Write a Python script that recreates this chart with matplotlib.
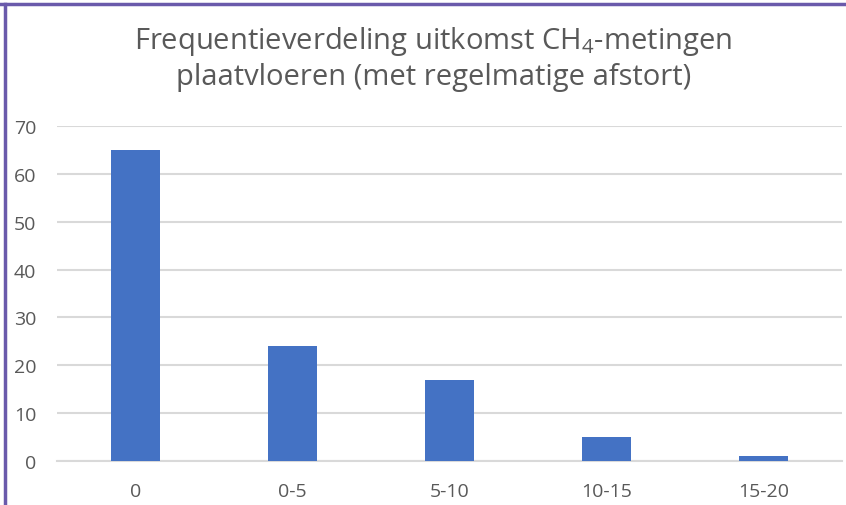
import matplotlib
matplotlib.use("Agg")
import matplotlib.pyplot as plt
from matplotlib.lines import Line2D

categories = ["0", "0-5", "5-10", "10-15", "15-20"]
counts = [65, 24, 17, 5, 1]
y_ticks = [0, 10, 20, 30, 40, 50, 60, 70]

BAR_COLOR = "#4472C4"
GRID_COLOR = "#D9D9D9"
TEXT_COLOR = "#595959"
BORDER_COLOR = "#6A5AAB"

plt.rcParams["font.family"] = ["Open Sans", "DejaVu Sans"]
plt.rcParams["mathtext.default"] = "regular"

fig = plt.figure(figsize=(8.46, 5.06), dpi=100)
ax = fig.add_axes([0.0674, 0.087, 0.928, 0.662])

x = range(len(categories))
ax.bar(x, counts, width=0.31, color=BAR_COLOR, zorder=3)

ax.set_xlim(-0.5, len(categories) - 0.5)
ax.set_ylim(0, 70)
ax.set_yticks(y_ticks)
ax.set_xticks(list(x))
ax.set_xticklabels(categories)
ax.yaxis.grid(True, color=GRID_COLOR, linewidth=1.5, zorder=0)
ax.set_axisbelow(True)
for side in ["top", "right", "left"]:
    ax.spines[side].set_visible(False)
ax.spines["bottom"].set_color(GRID_COLOR)
ax.spines["bottom"].set_linewidth(1.5)
ax.tick_params(axis="both", length=0, labelsize=14, labelcolor=TEXT_COLOR)
ax.tick_params(axis="x", pad=15)
ax.tick_params(axis="y", pad=15)

fig.text(0.512, 0.918, "Frequentieverdeling uitkomst CH$_4$-metingen",
         ha="center", va="center", fontsize=21, color=TEXT_COLOR)
fig.text(0.512, 0.846, "plaatvloeren (met regelmatige afstort)",
         ha="center", va="center", fontsize=21, color=TEXT_COLOR)

# frame lines (top and left) as in the screenshot
fig.add_artist(Line2D([0, 1], [0.991, 0.991], color=BORDER_COLOR, linewidth=2.5,
                      transform=fig.transFigure))
fig.add_artist(Line2D([0.0065, 0.0065], [0, 0.991], color=BORDER_COLOR, linewidth=2.5,
                      transform=fig.transFigure))

fig.savefig("out.png", dpi=100)
